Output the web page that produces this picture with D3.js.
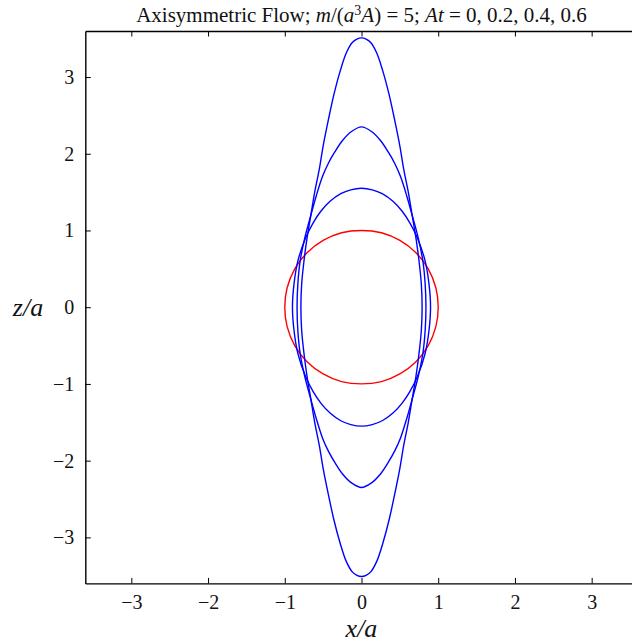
<!DOCTYPE html>
<html>
<head>
<meta charset="utf-8">
<script src="https://cdn.jsdelivr.net/npm/d3@7"></script>
<style>
  html, body { margin: 0; padding: 0; background: #fff; }
  svg { display: block; }
</style>
</head>
<body>
<div id="chart"></div>
<script>
"use strict";

/* ── Data: quarter outlines (x/a, z/a), from the equator up to the pole ── */
const tickValues = [-3, -2, -1, 0, 1, 2, 3];
const axisDomain = [-3.6, 3.6];

const shapeAt0 = [
  [1.00, 0], [0.97, 0.25], [0.87, 0.50], [0.71, 0.71],
  [0.50, 0.87], [0.26, 0.97], [0, 1.00]
];
const shapeAt02 = [
  [0.90, 0], [0.88, 0.30], [0.83, 0.60], [0.73, 0.90], [0.63, 1.10],
  [0.53, 1.25], [0.41, 1.38], [0.27, 1.48], [0.14, 1.53], [0, 1.55]
];
const shapeAt04 = [
  [0.84, 0], [0.83, 0.30], [0.80, 0.60], [0.74, 0.90], [0.66, 1.20],
  [0.59, 1.45], [0.51, 1.70], [0.43, 1.88], [0.35, 2.02], [0.25, 2.17],
  [0.13, 2.29], [0, 2.35]
];
const shapeAt06 = [
  [0.79, 0], [0.78, 0.30], [0.75, 0.60], [0.71, 0.90], [0.66, 1.20],
  [0.61, 1.50], [0.55, 1.80], [0.50, 2.10], [0.43, 2.45], [0.36, 2.77],
  [0.28, 3.07], [0.20, 3.31], [0.12, 3.45], [0.06, 3.495], [0, 3.51]
];

const series = [
  { name: "At = 0",   pts: shapeAt0,  colour: "#ff0000" },
  { name: "At = 0.2", pts: shapeAt02, colour: "#0000ff" },
  { name: "At = 0.4", pts: shapeAt04, colour: "#0000ff" },
  { name: "At = 0.6", pts: shapeAt06, colour: "#0000ff" }
];

/* mirror a quarter outline into a closed shape (axisymmetric about both axes) */
function fullOutline(q) {
  const n = q.length;
  const out = [];
  q.forEach(p => out.push([p[0], p[1]]));                          // right, upper
  for (let i = n - 2; i >= 0; i--) out.push([-q[i][0], q[i][1]]);  // left, upper
  for (let i = 1; i < n; i++) out.push([-q[i][0], -q[i][1]]);      // left, lower
  for (let i = n - 2; i >= 1; i--) out.push([q[i][0], -q[i][1]]);  // right, lower
  return out;
}

/* ── Dimensions ── */
const W = 632, H = 643;
const plot = { left: 85.3, top: 31, size: 552.4 };

const svg = d3.select("#chart").append("svg")
  .attr("width", W).attr("height", H)
  .style("font-family", "'Liberation Serif', 'Times New Roman', serif");

const x = d3.scaleLinear().domain(axisDomain).range([plot.left, plot.left + plot.size]);
const y = d3.scaleLinear().domain(axisDomain).range([plot.top + plot.size, plot.top]);

/* ── Curves ── */
const line = d3.line()
  .x(d => x(d[0])).y(d => y(d[1]))
  .curve(d3.curveCatmullRomClosed.alpha(0.5));

svg.append("g").selectAll("path")
  .data(series)
  .join("path")
  .attr("d", d => line(fullOutline(d.pts)))
  .attr("fill", "none")
  .attr("stroke", d => d.colour)
  .attr("stroke-width", 1.4);

/* ── Axes (inward ticks, mirrored on top / right) ── */
const tk = 5.5;
const fmt = d => d3.format("d")(d);

function styleAxis(g) {
  g.select(".domain").attr("stroke", "#000").attr("stroke-width", 1.4);
  g.selectAll(".tick line").attr("stroke", "#000").attr("stroke-width", 1);
}

svg.append("g")
  .attr("transform", `translate(0,${plot.top + plot.size})`)
  .call(d3.axisBottom(x).tickValues(tickValues).tickSize(-tk).tickSizeOuter(0).tickPadding(11).tickFormat(fmt))
  .call(styleAxis)
  .call(g => g.selectAll(".tick text").attr("fill", "#111").attr("font-size", "20px").attr("font-family", "'Liberation Serif', serif"));

svg.append("g")
  .attr("transform", `translate(0,${plot.top})`)
  .call(d3.axisTop(x).tickValues(tickValues).tickSize(-tk).tickSizeOuter(0).tickFormat(""))
  .call(styleAxis);

svg.append("g")
  .attr("transform", `translate(${plot.left},0)`)
  .call(d3.axisLeft(y).tickValues(tickValues).tickSize(-tk).tickSizeOuter(0).tickPadding(11).tickFormat(fmt))
  .call(styleAxis)
  .call(g => g.selectAll(".tick text").attr("fill", "#111").attr("font-size", "20px").attr("font-family", "'Liberation Serif', serif"));

svg.append("g")
  .attr("transform", `translate(${plot.left + plot.size},0)`)
  .call(d3.axisRight(y).tickValues(tickValues).tickSize(-tk).tickSizeOuter(0).tickFormat(""))
  .call(styleAxis);

/* ── Axis labels ── */
svg.append("text")
  .attr("x", x(0)).attr("y", 637)
  .attr("text-anchor", "middle")
  .attr("font-size", "26px").attr("font-style", "italic").attr("fill", "#111")
  .text("x/a");

svg.append("text")
  .attr("x", 28).attr("y", y(0) + 9)
  .attr("text-anchor", "middle")
  .attr("font-size", "26px").attr("font-style", "italic").attr("fill", "#111")
  .text("z/a");

/* ── Title ── */
const title = svg.append("text")
  .attr("x", x(0)).attr("y", 22)
  .attr("text-anchor", "middle")
  .attr("font-size", "21px").attr("fill", "#111");

[
  ["Axisymmetric Flow; ", false],
  ["m", true], ["/(", false], ["a", true]
].forEach(([t, it]) => title.append("tspan").attr("font-style", it ? "italic" : "normal").text(t));
title.append("tspan").attr("font-size", "14px").attr("dy", -7).text("3");
title.append("tspan").attr("font-style", "italic").attr("dy", 7).text("A");
[
  [") = 5; ", false], ["At", true], [" = 0, 0.2, 0.4, 0.6", false]
].forEach(([t, it]) => title.append("tspan").attr("font-style", it ? "italic" : "normal").text(t));
</script>
</body>
</html>
